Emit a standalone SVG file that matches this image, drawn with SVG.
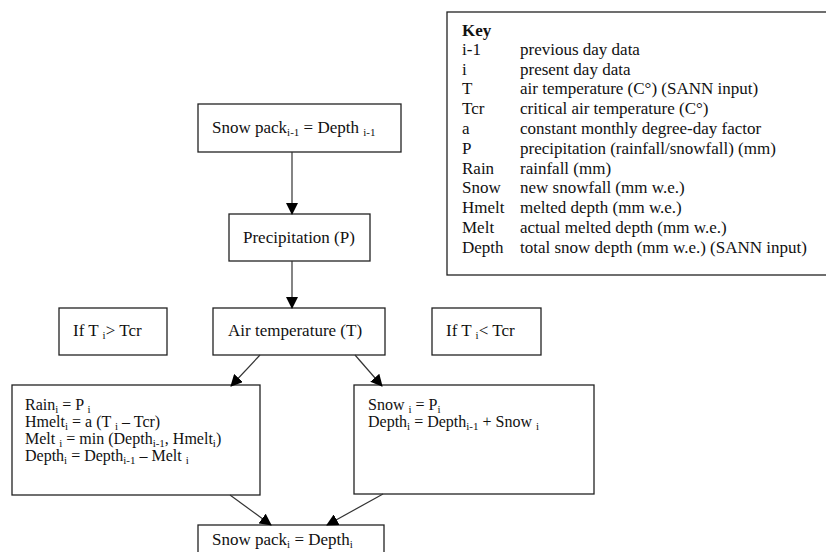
<svg xmlns="http://www.w3.org/2000/svg" width="826" height="552" viewBox="0 0 826 552">
<defs>
<style>
text{font-family:"Liberation Serif","Times New Roman",serif;font-size:17px;fill:#111}
.eq{font-size:16px}
.box{fill:#fff;stroke:#222;stroke-width:1.3}
.sub{font-size:11px}
.b{font-weight:bold}
.con{stroke:#333;stroke-width:1.2;fill:none}
</style>
<marker id="ah" viewBox="0 0 12 12" refX="11" refY="6" markerWidth="12" markerHeight="12" markerUnits="userSpaceOnUse" orient="auto">
<path d="M0,0 L12,6 L0,12 Z" fill="#000"/>
</marker>
</defs>
<rect width="826" height="552" fill="#fff"/>

<g id="key">
<rect class="box" x="447" y="12" width="390" height="263"/>
<text x="462" y="36" class="b">Key</text>
<text x="462" y="55">i-1</text><text x="520" y="55">previous day data</text>
<text x="462" y="75">i</text><text x="520" y="75">present day data</text>
<text x="462" y="94">T</text><text x="520" y="94">air temperature (C°) (SANN input)</text>
<text x="462" y="114">Tcr</text><text x="520" y="114">critical air temperature (C°)</text>
<text x="462" y="134">a</text><text x="520" y="134">constant monthly degree-day factor</text>
<text x="462" y="154">P</text><text x="520" y="154">precipitation (rainfall/snowfall) (mm)</text>
<text x="462" y="174">Rain</text><text x="520" y="174">rainfall (mm)</text>
<text x="462" y="193">Snow</text><text x="520" y="193">new snowfall (mm w.e.)</text>
<text x="462" y="213">Hmelt</text><text x="520" y="213">melted depth (mm w.e.)</text>
<text x="462" y="233">Melt</text><text x="520" y="233">actual melted depth (mm w.e.)</text>
<text x="462" y="253">Depth</text><text x="520" y="253">total snow depth (mm w.e.) (SANN input)</text>
</g>

<g id="snowpack-prev">
<rect class="box" x="198" y="104" width="203" height="48"/>
<text x="212" y="133">Snow pack<tspan class="sub" dy="3">i-1</tspan><tspan dy="-3"> = Depth </tspan><tspan class="sub" dy="3">i-1</tspan></text>
</g>

<g id="precipitation">
<rect class="box" x="229" y="214" width="141" height="47"/>
<text x="243" y="243">Precipitation (P)</text>
</g>

<g id="if-greater">
<rect class="box" x="59" y="308" width="108" height="47"/>
<text x="73" y="336">If T <tspan class="sub" dy="3">i</tspan><tspan dy="-3">&gt; Tcr</tspan></text>
</g>

<g id="air-temperature">
<rect class="box" x="213" y="308" width="172" height="47"/>
<text x="228" y="336">Air temperature (T)</text>
</g>

<g id="if-less">
<rect class="box" x="432" y="308" width="109" height="47"/>
<text x="446" y="336">If T <tspan class="sub" dy="3">i</tspan><tspan dy="-3">&lt; Tcr</tspan></text>
</g>

<g id="rain-case">
<rect class="box" x="12" y="385" width="248" height="110"/>
<text class="eq" x="25" y="410">Rain<tspan class="sub" dy="3">i</tspan><tspan dy="-3"> = P </tspan><tspan class="sub" dy="3">i</tspan></text>
<text class="eq" x="25" y="427">Hmelt<tspan class="sub" dy="3">i</tspan><tspan dy="-3"> = a (T </tspan><tspan class="sub" dy="3">i</tspan><tspan dy="-3"> – Tcr)</tspan></text>
<text class="eq" x="25" y="444">Melt <tspan class="sub" dy="3">i</tspan><tspan dy="-3"> = min (Depth</tspan><tspan class="sub" dy="3">i-1</tspan><tspan dy="-3">, Hmelt</tspan><tspan class="sub" dy="3">i</tspan><tspan dy="-3">)</tspan></text>
<text class="eq" x="25" y="461">Depth<tspan class="sub" dy="3">i</tspan><tspan dy="-3"> = Depth</tspan><tspan class="sub" dy="3">i-1</tspan><tspan dy="-3"> – Melt </tspan><tspan class="sub" dy="3">i</tspan></text>
</g>

<g id="snow-case">
<rect class="box" x="354" y="385" width="240" height="109"/>
<text class="eq" x="368" y="410">Snow <tspan class="sub" dy="3">i</tspan><tspan dy="-3"> = P</tspan><tspan class="sub" dy="3">i</tspan></text>
<text class="eq" x="368" y="427">Depth<tspan class="sub" dy="3">i</tspan><tspan dy="-3"> = Depth</tspan><tspan class="sub" dy="3">i-1</tspan><tspan dy="-3">  + Snow </tspan><tspan class="sub" dy="3">i</tspan></text>
</g>

<g id="snowpack-current">
<rect class="box" x="198" y="525" width="186" height="40"/>
<text x="212" y="545">Snow pack<tspan class="sub" dy="3">i</tspan><tspan dy="-3"> = Depth</tspan><tspan class="sub" dy="3">i</tspan></text>
</g>

<g id="connectors">
<line class="con" x1="292" y1="152" x2="292" y2="214" marker-end="url(#ah)"/>
<line class="con" x1="292" y1="261" x2="292" y2="308" marker-end="url(#ah)"/>
<line class="con" x1="260" y1="355" x2="231" y2="386" marker-end="url(#ah)"/>
<line class="con" x1="355" y1="355" x2="382" y2="386" marker-end="url(#ah)"/>
<line class="con" x1="230" y1="495" x2="271" y2="525" marker-end="url(#ah)"/>
<line class="con" x1="383" y1="494" x2="327" y2="525" marker-end="url(#ah)"/>
</g>
</svg>
